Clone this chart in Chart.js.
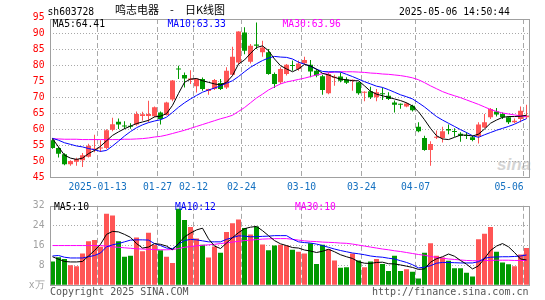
<!DOCTYPE html>
<html>
<head>
<meta charset="utf-8">
<script src="https://cdn.jsdelivr.net/npm/chart.js@4.4.1/dist/chart.umd.min.js"></script>
<style>
  body { margin: 0; width: 545px; height: 300px; background: #fff; position: relative; overflow: hidden; }
  canvas { position: absolute; left: 0; z-index: 1; }
  .t { position: absolute; z-index: 2; white-space: pre; font-family: 'DejaVu Sans Mono', monospace; font-size: 9.7px; line-height: 9.7px; }
  .cjk { font-family: 'Noto Sans CJK SC', sans-serif; font-size: 11px; line-height: 11px; }
  .mark { position: absolute; z-index: 0; left: 497px; top: 155px; font: italic bold 17px 'Liberation Sans', sans-serif; color: #d4d4d4; }
</style>
</head>
<body>
<div class="mark">sina</div>
<canvas id="kChart" width="545" height="200" style="top:0"></canvas>
<canvas id="volChart" width="545" height="105" style="top:195px"></canvas>

<div class="t" style="left:47.5px;top:7px">sh603728</div>
<div class="t cjk" style="left:115px;top:3.5px">鸣志电器</div>
<div class="t cjk" style="left:170px;top:3.5px">-</div>
<div class="t cjk" style="left:185px;top:3.5px">日K线图</div>
<div class="t" style="left:399px;top:7px">2025-05-06 14:50:44</div>

<div class="t" style="left:52.5px;top:19px;color:#000">MA5:64.41</div>
<div class="t" style="left:167.5px;top:19px;color:#0000ff">MA10:63.33</div>
<div class="t" style="left:282.5px;top:19px;color:#ff00ff">MA30:63.96</div>

<div class="t" style="left:54px;top:201.5px;color:#000">MA5:10</div>
<div class="t" style="left:175px;top:201.5px;color:#0000ff">MA10:12</div>
<div class="t" style="left:295px;top:201.5px;color:#ff00ff">MA30:10</div>

<div class="t" style="left:50px;top:287px;font-size:10px;color:#555">Copyright 2025 SINA.COM</div>
<div class="t" style="right:16.5px;top:287px;font-size:10px;color:#555">http://finance.sina.com.cn</div>

<script>
// Data harian sh603728
const dates = [
    '2024-12-31', '2025-01-02', '2025-01-03', '2025-01-06', '2025-01-07', '2025-01-08', '2025-01-09', '2025-01-10',
    '2025-01-13', '2025-01-14', '2025-01-15', '2025-01-16', '2025-01-17', '2025-01-20', '2025-01-21', '2025-01-22',
    '2025-01-23', '2025-01-24', '2025-01-27', '2025-02-05', '2025-02-06', '2025-02-07', '2025-02-10', '2025-02-11',
    '2025-02-12', '2025-02-13', '2025-02-14', '2025-02-17', '2025-02-18', '2025-02-19', '2025-02-20', '2025-02-21',
    '2025-02-24', '2025-02-25', '2025-02-26', '2025-02-27', '2025-02-28', '2025-03-03', '2025-03-04', '2025-03-05',
    '2025-03-06', '2025-03-07', '2025-03-10', '2025-03-11', '2025-03-12', '2025-03-13', '2025-03-14', '2025-03-17',
    '2025-03-18', '2025-03-19', '2025-03-20', '2025-03-21', '2025-03-24', '2025-03-25', '2025-03-26', '2025-03-27',
    '2025-03-28', '2025-03-31', '2025-04-01', '2025-04-02', '2025-04-03', '2025-04-07', '2025-04-08', '2025-04-09',
    '2025-04-10', '2025-04-11', '2025-04-14', '2025-04-15', '2025-04-16', '2025-04-17', '2025-04-18', '2025-04-21',
    '2025-04-22', '2025-04-23', '2025-04-24', '2025-04-25', '2025-04-28', '2025-04-29', '2025-04-30', '2025-05-06'
];
const shownDates = ['2025-01-13', '2025-01-27', '2025-02-12', '2025-02-24', '2025-03-10', '2025-03-24', '2025-04-07', '2025-05-06'];

const opens = [
    56.6, 54.2, 52.2, 49.1, 49.9, 50.3, 51.4, 53.6, 54.0, 54.2,
    59.9, 62.4, 61.2, 61.0, 61.5, 64.2, 64.2, 64.1, 65.3, 64.5,
    69.3, 79.0, 77.0, 75.4, 73.5, 75.7, 72.0, 72.6, 74.5, 73.1,
    77.1, 80.9, 90.3, 81.1, 86.5, 84.1, 84.1, 77.3, 74.7, 77.3,
    80.0, 78.9, 80.7, 80.2, 78.3, 76.6, 71.25, 76.1, 76.5, 75.6,
    75.2, 74.7, 71.4, 71.9, 70.0, 71.2, 70.5, 68.4, 67.9, 67.1,
    67.4, 60.8, 57.3, 53.5, 57.4, 57.3, 60.1, 59.4, 58.6, 58.1,
    57.5, 57.8, 60.6, 63.75, 65.6, 64.8, 63.75, 62.2, 63.2, 63.75
];
const highs = [
    57.2, 54.5, 52.5, 50.3, 51.1, 52.6, 55.5, 58.3, 56.6, 60.0,
    63.6, 63.4, 62.5, 61.9, 65.6, 65.5, 68.9, 67.1, 65.6, 68.6,
    75.4, 79.9, 77.8, 78.5, 76.0, 76.2, 72.7, 75.7, 75.7, 79.4,
    85.8, 90.7, 91.9, 86.7, 93.4, 87.7, 85.1, 77.8, 79.4, 80.4,
    81.5, 81.5, 82.7, 81.7, 78.9, 77.1, 77.8, 77.1, 77.8, 76.25,
    75.6, 74.9, 71.9, 73.3, 72.6, 73.1, 71.6, 69.0, 68.1, 68.4,
    67.7, 62.2, 58.0, 56.25, 59.6, 60.8, 61.5, 60.3, 59.1, 59.1,
    58.0, 62.2, 64.8, 66.7, 66.7, 65.3, 64.1, 63.4, 67.1, 67.7
];
const lows = [
    53.9, 51.2, 48.8, 48.6, 48.6, 48.2, 51.2, 52.8, 52.9, 53.8,
    59.4, 60.1, 60.1, 60.2, 61.1, 62.7, 62.2, 63.8, 61.5, 64.3,
    68.8, 75.7, 73.1, 74.2, 71.5, 72.1, 70.8, 72.3, 72.3, 72.6,
    76.8, 80.4, 83.5, 80.6, 85.1, 82.7, 77.1, 72.9, 74.2, 76.8,
    78.3, 78.3, 80.4, 76.3, 76.3, 70.8, 71.0, 73.6, 74.7, 74.2,
    72.1, 70.8, 68.75, 69.5, 68.75, 69.2, 69.2, 65.3, 66.4, 66.9,
    65.6, 59.1, 53.3, 48.6, 57.0, 55.9, 58.5, 57.7, 56.1, 57.0,
    56.25, 55.6, 60.4, 63.2, 64.0, 63.2, 61.7, 61.9, 62.2, 63.2
];
const closes = [
    54.2, 52.4, 49.1, 50.1, 50.7, 51.9, 54.9, 54.0, 54.3, 59.7,
    61.6, 61.5, 60.9, 60.8, 64.8, 64.7, 64.8, 66.9, 63.2, 68.4,
    75.3, 78.7, 75.9, 75.9, 75.8, 72.6, 72.6, 75.4, 72.6, 78.3,
    82.7, 90.6, 84.6, 86.1, 86.1, 85.6, 77.3, 74.2, 78.9, 80.2,
    79.8, 80.6, 81.7, 78.1, 76.8, 72.3, 77.3, 76.4, 75.2, 74.6,
    75.4, 71.25, 71.6, 70.0, 71.6, 71.0, 69.5, 67.7, 67.7, 68.1,
    66.0, 59.4, 53.5, 55.4, 57.6, 59.4, 59.6, 59.2, 58.0, 57.9,
    56.7, 61.5, 62.2, 66.35, 64.6, 63.75, 62.2, 62.7, 65.8, 64.3
];
const ma5 = [
    57.1, 54.5, 51.9, 51.0, 50.6, 51.0, 52.4, 53.4, 54.7, 56.4,
    58.1, 59.2, 60.2, 61.0, 61.8, 62.3, 62.8, 63.9, 64.1, 64.9,
    67.5, 71.2, 74.7, 75.7, 75.9, 75.2, 74.7, 74.2, 73.9, 74.7,
    76.8, 80.4, 81.7, 83.75, 85.6, 86.1, 84.6, 82.0, 79.9, 78.9,
    78.0, 78.9, 80.3, 79.8, 78.8, 77.5, 77.0, 76.25, 75.7, 75.5,
    75.2, 75.2, 73.6, 71.9, 71.0, 70.5, 70.0, 69.5, 69.0, 68.3,
    67.3, 65.5, 63.0, 60.3, 58.0, 57.0, 56.8, 57.5, 58.2, 58.2,
    57.9, 58.5, 60.1, 61.9, 62.9, 63.75, 64.0, 64.0, 64.1, 64.41
];
const ma10 = [
    57.2, 56.6, 55.8, 55.3, 54.8, 54.5, 54.0, 53.6, 53.1, 53.4,
    54.8, 56.3, 57.9, 59.3, 60.5, 61.4, 62.1, 62.6, 63.0, 63.8,
    65.3, 66.9, 68.3, 69.5, 70.6, 71.6, 72.3, 72.9, 73.6, 74.4,
    75.2, 76.5, 78.0, 79.4, 80.5, 81.5, 82.3, 82.8, 82.6, 82.5,
    82.0, 81.0, 80.4, 79.7, 78.8, 78.1, 78.0, 78.0, 77.9, 77.2,
    76.5, 75.7, 74.9, 74.2, 73.5, 73.1, 72.4, 71.6, 70.8, 70.2,
    69.5, 68.3, 67.0, 65.5, 64.0, 62.9, 61.9, 60.9, 59.9, 59.0,
    58.0, 57.5, 58.3, 59.0, 59.7, 60.3, 60.9, 61.6, 62.5, 63.33
];
const ma30 = [
    57.0, 57.0, 56.9, 56.9, 56.9, 56.8, 56.8, 56.8, 56.8, 56.8,
    56.8, 56.8, 56.9, 56.9, 57.0, 57.1, 57.3, 57.6, 57.8, 58.2,
    58.7, 59.2, 59.7, 60.3, 60.9, 61.5, 62.1, 62.7, 63.3, 63.8,
    64.4, 65.6, 66.8, 68.3, 69.8, 71.0, 72.3, 73.3, 74.2, 74.8,
    75.2, 75.6, 76.0, 76.5, 77.0, 77.4, 77.7, 77.9, 78.0, 78.0,
    78.0, 77.9, 77.8, 77.6, 77.5, 77.3, 77.2, 77.0, 76.8, 76.5,
    76.1, 75.5, 74.6, 73.6, 72.7, 71.8, 71.1, 70.5, 69.9, 69.2,
    68.5, 67.8, 67.0, 66.2, 65.6, 65.1, 64.8, 64.5, 64.2, 63.96
];

// Volume dalam satuan 万
const volumes = [
    9.6, 11.3, 10.6, 8.1, 7.7, 12.8, 17.7, 18.2, 15.5, 28.8,
    28.1, 17.7, 11.5, 11.9, 19.2, 13.7, 21.2, 16.3, 14.1, 11.5,
    9.0, 30.8, 26.3, 23.5, 18.8, 16.3, 11.2, 15.6, 13.1, 21.5,
    25.0, 26.5, 23.1, 20.5, 23.7, 16.4, 14.1, 16.0, 16.3, 16.0,
    14.3, 13.5, 12.8, 16.9, 8.6, 16.3, 14.5, 10.0, 7.1, 7.3,
    12.8, 10.0, 7.3, 9.6, 10.6, 8.6, 5.8, 11.9, 5.8, 6.5,
    5.5, 2.7, 13.1, 16.9, 11.9, 11.2, 9.9, 6.9, 6.9, 5.1,
    3.5, 18.5, 20.8, 23.5, 13.5, 9.2, 8.5, 7.7, 12.4, 15.0
];
const volMa5 = [
    11.5, 10.5, 9.6, 9.4, 9.4, 9.6, 11.8, 14.0, 16.5, 20.5,
    21.7, 21.5, 20.5, 19.3, 16.8, 15.0, 15.4, 16.8, 16.5, 15.8,
    14.3, 16.8, 19.5, 21.0, 22.3, 23.0, 18.7, 15.8, 14.8, 17.0,
    19.2, 21.2, 22.8, 23.4, 23.7, 22.0, 20.0, 18.0, 16.7, 16.0,
    15.2, 15.0, 14.2, 13.8, 13.2, 13.7, 14.5, 13.5, 12.3, 11.5,
    10.8, 9.5, 8.9, 8.8, 9.2, 9.3, 8.7, 8.6, 8.2, 7.7,
    7.2, 6.4, 6.6, 9.3, 10.7, 11.5, 12.6, 11.7, 10.0, 8.5,
    6.6, 7.8, 10.8, 14.0, 15.8, 16.8, 15.5, 13.2, 10.6, 10.2
];
const volMa10 = [
    11.8, 12.0, 11.3, 11.0, 11.0, 11.0, 11.5, 12.0, 13.0, 15.5,
    16.3, 16.8, 17.5, 18.2, 18.3, 18.3, 18.2, 16.8, 16.0, 15.0,
    14.8, 16.5, 18.0, 18.5, 18.3, 17.9, 17.5, 17.5, 17.5, 18.5,
    19.2, 19.9, 19.8, 19.5, 19.6, 19.7, 19.8, 20.0, 20.0, 20.0,
    18.6, 17.5, 17.2, 17.0, 16.6, 16.0, 15.3, 14.6, 14.0, 13.5,
    13.0, 12.7, 12.3, 11.8, 11.5, 11.3, 10.9, 10.6, 9.9, 9.2,
    8.3, 7.0, 7.3, 7.9, 8.9, 9.2, 9.2, 9.1, 9.0, 9.0,
    9.0, 9.5, 10.9, 11.3, 11.4, 11.5, 11.5, 11.6, 11.8, 12.2
];
const volMa30 = [
    16.0, 16.0, 16.0, 16.0, 16.0, 16.0, 16.0, 16.0, 16.0, 15.8,
    15.5, 15.3, 15.1, 14.9, 14.7, 14.6, 14.5, 14.4, 14.3, 14.3,
    14.4, 14.8, 15.3, 15.6, 15.9, 16.1, 16.3, 16.5, 16.8, 17.1,
    17.4, 17.7, 18.0, 18.2, 18.4, 18.6, 18.7, 18.8, 18.8, 18.8,
    18.5, 18.2, 17.9, 17.7, 17.6, 17.4, 17.3, 17.2, 17.0, 16.9,
    16.6, 16.2, 15.8, 15.4, 15.0, 14.6, 14.3, 13.9, 13.6, 13.2,
    12.8, 12.4, 12.1, 11.6, 11.2, 10.9, 10.6, 10.4, 10.2, 10.0,
    9.9, 9.9, 10.0, 10.0, 10.1, 10.1, 10.1, 10.0, 10.0, 10.0
];

const priceTicks = [45, 50, 55, 60, 65, 70, 75, 80, 85, 90, 95];
const volTicks = [0, 8, 16, 24, 32];

const UP = '#ff5555';
const DOWN = '#009900';
const candleColors = opens.map((o, i) => closes[i] >= o ? UP : DOWN);
const monoFont = { family: "'DejaVu Sans Mono', monospace", size: 9.7 };

// Kotak abu-abu di sekeliling area grafik
const framePlugin = {
    id: 'frame',
    afterDatasetsDraw(chart) {
        const { ctx, chartArea: a } = chart;
        const x1 = Math.round(a.left) + 0.5, x2 = Math.floor(a.right) + 0.5;
        const y1 = Math.round(a.top) + 0.5, y2 = Math.floor(a.bottom) + 0.5;
        ctx.save();
        ctx.strokeStyle = '#a0a0a0';
        ctx.lineWidth = 1;
        ctx.strokeRect(x1, y1, x2 - x1, y2 - y1);
        ctx.restore();
    }
};

function maLine(data, color) {
    return { type: 'line', data: data, borderColor: color, borderWidth: 1, pointRadius: 0, tension: 0 };
}

function dateAxis(showLabels, height) {
    return {
        offset: true,
        ticks: {
            display: showLabels,
            autoSkip: false,
            maxRotation: 0,
            color: '#1470c0',
            font: monoFont,
            padding: 4,
            callback: (value, index) => {
                const d = dates[index];
                if (!shownDates.includes(d)) return '';
                // label terakhir digeser ke kiri seperti di gambar asli
                if (index === dates.length - 1) return d.slice(5) + '      ';
                return (d === shownDates[0] ? d : d.slice(5)) + ' ';
            }
        },
        grid: {
            offset: true,
            drawTicks: false,
            color: c => shownDates.includes(dates[c.index]) ? '#a8a8a8' : 'transparent'
        },
        border: { display: false, dash: [5, 3] },
        // area grafik tidak boleh menyempit karena label
        afterFit: s => { s.height = height; s.paddingLeft = 0; s.paddingRight = 0; }
    };
}

// K-line chart
const kCtx = document.getElementById('kChart').getContext('2d');
new Chart(kCtx, {
    type: 'bar',
    data: {
        labels: dates,
        datasets: [
            maLine(ma5, '#000000'),
            maLine(ma10, '#0000ff'),
            maLine(ma30, '#ff00ff'),
            {
                label: 'body',
                data: opens.map((o, i) => [o, closes[i]]),
                backgroundColor: candleColors,
                barThickness: 5,
                grouped: false,
                minBarLength: 1,
                inflateAmount: 0
            },
            {
                label: 'wick',
                data: lows.map((l, i) => [l, highs[i]]),
                backgroundColor: candleColors,
                barThickness: 1,
                grouped: false,
                inflateAmount: 0
            }
        ]
    },
    options: {
        responsive: false,
        animation: false,
        events: [],
        layout: { padding: { top: 19, right: 15.5, left: 0, bottom: 0 } },
        plugins: { legend: { display: false }, tooltip: { enabled: false } },
        scales: {
            x: dateAxis(true, 22.7),
            y: {
                min: 45,
                max: 94.5,
                afterBuildTicks: s => { s.ticks = priceTicks.map(v => ({ value: v })); },
                ticks: { color: '#ff0000', font: monoFont, padding: 5 },
                grid: {
                    drawTicks: false,
                    color: c => (c.tick.value === 45 || c.tick.value === 95) ? 'transparent' : '#a8a8a8'
                },
                border: { display: false, dash: [1, 2] },
                afterFit: s => { s.width = 49.5; }
            }
        }
    },
    plugins: [framePlugin]
});

// Volume chart
const volCtx = document.getElementById('volChart').getContext('2d');
new Chart(volCtx, {
    type: 'bar',
    data: {
        labels: dates,
        datasets: [
            maLine(volMa5, '#000000'),
            maLine(volMa10, '#0000ff'),
            maLine(volMa30, '#ff00ff'),
            {
                label: 'volume',
                data: volumes,
                backgroundColor: candleColors,
                barThickness: 5,
                inflateAmount: 0
            }
        ]
    },
    options: {
        responsive: false,
        animation: false,
        events: [],
        layout: { padding: { top: 6.7, right: 15.5, left: 0, bottom: 0 } },
        plugins: { legend: { display: false }, tooltip: { enabled: false } },
        scales: {
            x: dateAxis(false, 14.7),
            y: {
                min: 0,
                max: 32,
                afterBuildTicks: s => { s.ticks = volTicks.map(v => ({ value: v })); },
                ticks: { color: '#a0a0a0', font: monoFont, padding: 5, callback: v => v === 0 ? 'x万' : v },
                grid: {
                    drawTicks: false,
                    color: c => (c.tick.value === 0 || c.tick.value === 32) ? 'transparent' : '#a8a8a8'
                },
                border: { display: false, dash: [1, 2] },
                afterFit: s => { s.width = 49.5; }
            }
        }
    },
    plugins: [framePlugin]
});
</script>
</body>
</html>
